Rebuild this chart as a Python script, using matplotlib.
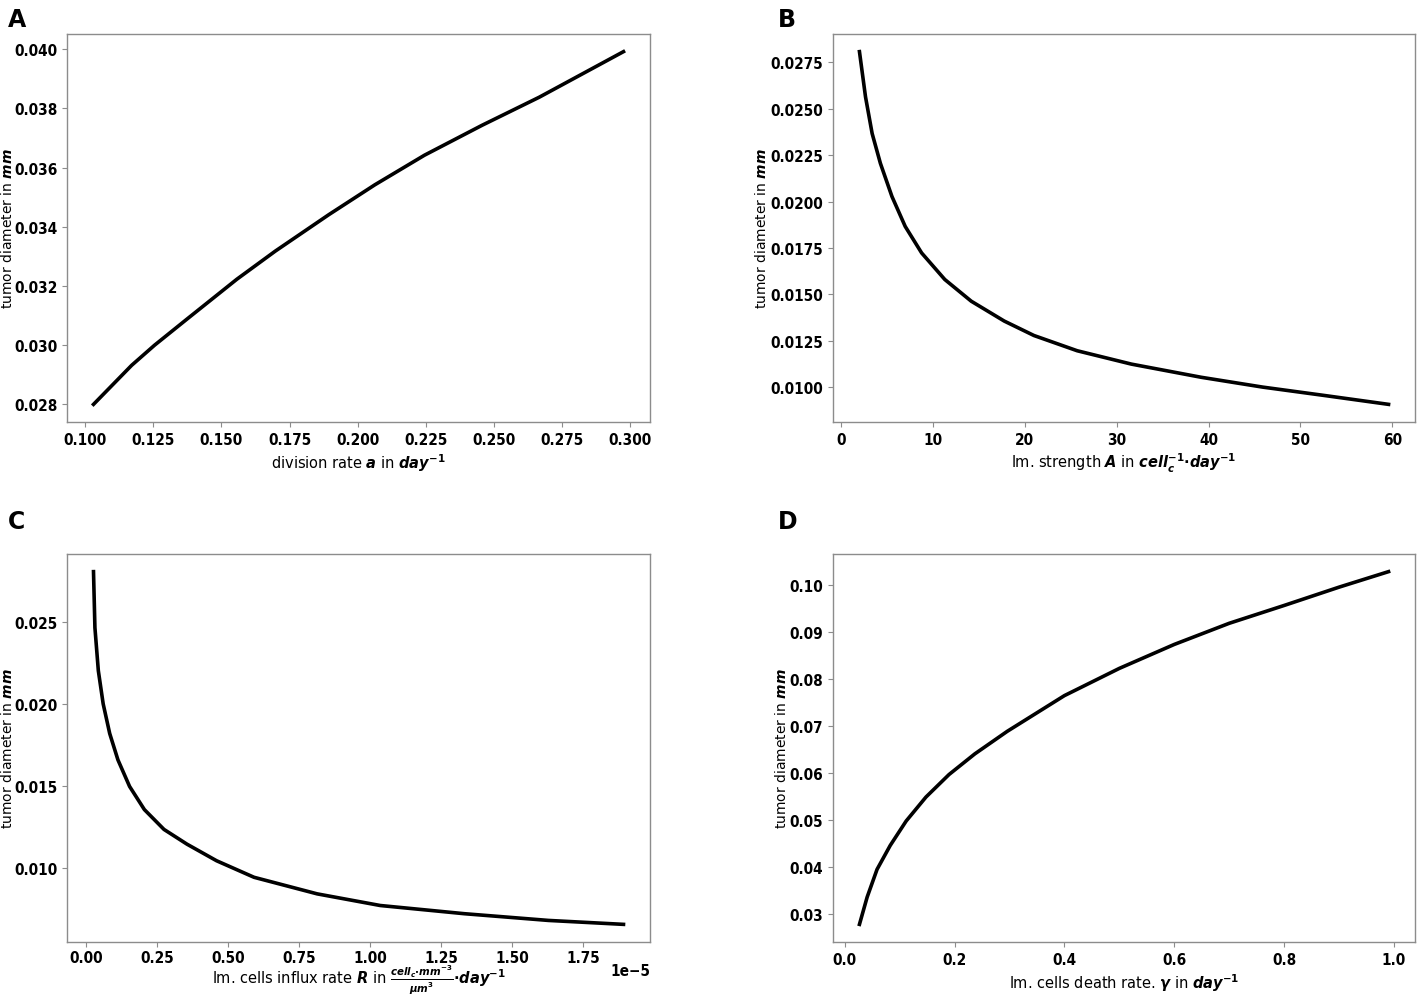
import matplotlib
matplotlib.use("Agg")
import matplotlib.pyplot as plt

# --- Werte ---

# A: Teilungsrate a
a_rate = [0.1031, 0.1171, 0.1255, 0.1375, 0.1557, 0.1698, 0.1894, 0.2063,
          0.2245, 0.2456, 0.2666, 0.2975]
a_diam = [0.02800, 0.02932, 0.03000, 0.03089, 0.03223, 0.03318, 0.03441,
          0.03542, 0.03642, 0.03743, 0.03838, 0.03992]

# B: Immunstaerke A
b_strength = [2.0, 2.66, 3.38, 4.28, 5.54, 6.98, 8.77, 11.29, 14.17, 17.76,
              21.0, 25.7, 31.6, 39.2, 45.9, 52.6, 59.6]
b_diam = [0.02808, 0.02564, 0.02367, 0.02206, 0.02027, 0.01866, 0.01723,
          0.01580, 0.01463, 0.01356, 0.01278, 0.01196, 0.01124, 0.01053,
          0.01000, 0.00955, 0.00907]

# C: Zuflussrate R (x 1e-5)
c_influx = [0.027, 0.032, 0.044, 0.061, 0.084, 0.113, 0.154, 0.206, 0.275,
            0.356, 0.460, 0.592, 0.814, 1.036, 1.332, 1.628, 1.892]
c_diam = [0.02808, 0.02466, 0.02204, 0.02002, 0.01821, 0.01660, 0.01498,
          0.01357, 0.01236, 0.01146, 0.01045, 0.00944, 0.00843, 0.00772,
          0.00722, 0.00681, 0.00657]

# D: Sterberate gamma
d_death = [0.027, 0.041, 0.059, 0.083, 0.112, 0.148, 0.190, 0.237, 0.296,
           0.400, 0.500, 0.600, 0.700, 0.800, 0.900, 0.990]
d_diam = [0.0277, 0.0335, 0.0394, 0.0445, 0.0497, 0.0548, 0.0596, 0.0640,
          0.0688, 0.0764, 0.0822, 0.0873, 0.0918, 0.0956, 0.0995, 0.1028]

ylab = r"tumor diameter in $\mathbfit{mm}$"
xlabels = [
    r"division rate $\mathbfit{a}$ in $\mathbfit{day}^{\mathbf{-1}}$",
    r"Im. strength $\mathbfit{A}$ in "
    r"$\mathbfit{cell}_{\mathbfit{c}}^{\mathbf{-1}} \mathbf{\cdot} \mathbfit{day}^{\mathbf{-1}}$",
    r"Im. cells influx rate $\mathbfit{R}$ in "
    r"$\frac{\mathbfit{cell}_{\mathbfit{c}} \mathbf{\cdot} \mathbfit{mm}^{\mathbf{-3}}}"
    r"{\boldsymbol{\mu}\mathbfit{m}^{\mathbf{3}}} \mathbf{\cdot} \mathbfit{day}^{\mathbf{-1}}$",
    r"Im. cells death rate. $\boldsymbol{\gamma}$ in $\mathbfit{day}^{\mathbf{-1}}$",
]

W, H = 1417, 995
fig = plt.figure(figsize=(W / 100, H / 100), dpi=100)


def add_ax(l, t, r, b):
    return fig.add_axes([l / W, 1 - b / H, (r - l) / W, (b - t) / H])


boxes = [(67, 35, 650, 423), (833, 35, 1415, 423),
         (67, 555, 650, 943), (833, 555, 1415, 943)]
series = [(a_rate, a_diam), (b_strength, b_diam),
          (c_influx, c_diam), (d_death, d_diam)]
# rechte Kante der y-Beschriftung (Achsenbruchteil)
ylab_x = [-0.089, -0.110, -0.089, -0.076]

tickfont = dict(fontweight="bold", fontsize=11, fontstretch="condensed")

axes = []
for box, (xs, ys), xl, yx in zip(boxes, series, xlabels, ylab_x):
    ax = add_ax(*box)
    ax.plot(xs, ys, color="black", lw=2.6)
    ax.set_xlabel(xl, fontsize=10.5, labelpad=3)
    ax.set_ylabel(ylab, fontsize=10)
    ax.yaxis.set_label_coords(yx, 0.5)
    for sp in ax.spines.values():
        sp.set_color("#8c8c8c")
        sp.set_linewidth(1.0)
    ax.tick_params(colors="#8c8c8c", labelcolor="black", length=3.5)
    axes.append(ax)

axA, axB, axC, axD = axes


def set_ticks(ax, xt, xfmt, yt, yfmt):
    ax.set_xticks(xt)
    ax.set_xticklabels([xfmt.format(v) for v in xt], **tickfont)
    ax.set_yticks(yt)
    ax.set_yticklabels([yfmt.format(v) for v in yt], **tickfont)


set_ticks(axA, [0.100, 0.125, 0.150, 0.175, 0.200, 0.225, 0.250, 0.275, 0.300],
          "{:.3f}", [0.028, 0.030, 0.032, 0.034, 0.036, 0.038, 0.040], "{:.3f}")
set_ticks(axB, [0, 10, 20, 30, 40, 50, 60], "{:.0f}",
          [0.0100, 0.0125, 0.0150, 0.0175, 0.0200, 0.0225, 0.0250, 0.0275],
          "{:.4f}")
# C: x-Werte in Einheiten von 1e-5
set_ticks(axC, [0.00, 0.25, 0.50, 0.75, 1.00, 1.25, 1.50, 1.75], "{:.2f}",
          [0.010, 0.015, 0.020, 0.025], "{:.3f}")
axC.text(1.0, -0.055, "1e\u22125", transform=axC.transAxes, ha="right",
         va="top", **tickfont)
axC.tick_params(axis="x", pad=2)
axC.xaxis.labelpad = -1.5
set_ticks(axD, [0.0, 0.2, 0.4, 0.6, 0.8, 1.0], "{:.1f}",
          [0.03, 0.04, 0.05, 0.06, 0.07, 0.08, 0.09, 0.10], "{:.2f}")

# Panelbuchstaben
for lab, (x, y) in zip("ABCD", [(8, 20), (778, 20), (8, 522), (778, 522)]):
    fig.text(x / W, 1 - y / H, lab, fontsize=17, fontweight="bold",
             ha="left", va="center")

fig.savefig("out.png", dpi=100)
